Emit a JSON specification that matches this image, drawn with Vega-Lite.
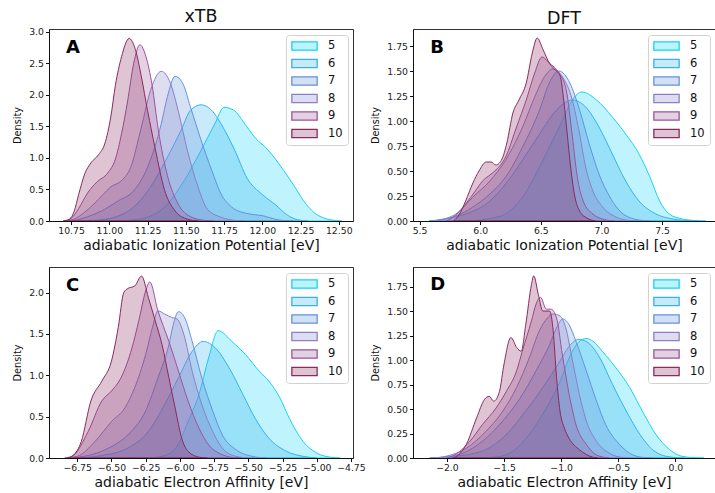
{
  "$schema": "https://vega.github.io/schema/vega-lite/v6.json",
  "padding": {"left": 12, "top": 7, "right": 1, "bottom": 0},
  "config": {
    "font": "DejaVu Sans",
    "view": {"stroke": "#333", "strokeWidth": 1},
    "axis": {"grid": false, "domainColor": "#111", "domainWidth": 1, "tickColor": "#111", "tickWidth": 1, "tickSize": 3.5,
             "labelColor": "#222", "labelFontSize": 9.3, "labelPadding": 2, "labelFlush": false, "labelOverlap": false,
             "titleColor": "#111", "titleFontWeight": "normal"},
    "axisX": {"titleFontSize": 14, "titlePadding": 3},
    "axisY": {"titleFontSize": 9.7, "titlePadding": 6},
    "legend": {"orient": "top-right", "offset": 5.5, "padding": 5, "rowPadding": 5.5, "clipHeight": 12, "labelFontSize": 11.5, "labelColor": "#111",
               "labelOffset": 10, "fillColor": "rgba(255,255,255,0.8)", "strokeColor": "#d2d2d2", "cornerRadius": 3,
               "symbolType": "M-1,-0.33H1V0.33H-1Z", "symbolSize": 640, "symbolStrokeWidth": 1.3},
    "title": {"fontSize": 17.5, "fontWeight": "normal", "color": "#111", "offset": 2}
  },
  "data": {"values": [
    {"p":"A","n":5,"x":11.0,"y":0},{"p":"A","n":5,"x":11.12,"y":0.01},{"p":"A","n":5,"x":11.25,"y":0.06},{"p":"A","n":5,"x":11.38,"y":0.27},{"p":"A","n":5,"x":11.49,"y":0.64},{"p":"A","n":5,"x":11.60,"y":1.12},{"p":"A","n":5,"x":11.69,"y":1.54},{"p":"A","n":5,"x":11.75,"y":1.80},{"p":"A","n":5,"x":11.81,"y":1.76},{"p":"A","n":5,"x":11.90,"y":1.49},{"p":"A","n":5,"x":11.96,"y":1.30},{"p":"A","n":5,"x":12.02,"y":1.17},{"p":"A","n":5,"x":12.08,"y":1.0},{"p":"A","n":5,"x":12.14,"y":0.8},{"p":"A","n":5,"x":12.21,"y":0.55},{"p":"A","n":5,"x":12.27,"y":0.32},{"p":"A","n":5,"x":12.34,"y":0.13},{"p":"A","n":5,"x":12.40,"y":0.05},{"p":"A","n":5,"x":12.47,"y":0.01},{"p":"A","n":5,"x":12.52,"y":0},
    {"p":"A","n":6,"x":10.85,"y":0},{"p":"A","n":6,"x":10.95,"y":0.02},{"p":"A","n":6,"x":11.05,"y":0.07},{"p":"A","n":6,"x":11.16,"y":0.22},{"p":"A","n":6,"x":11.27,"y":0.54},{"p":"A","n":6,"x":11.38,"y":1.01},{"p":"A","n":6,"x":11.47,"y":1.44},{"p":"A","n":6,"x":11.53,"y":1.75},{"p":"A","n":6,"x":11.60,"y":1.84},{"p":"A","n":6,"x":11.67,"y":1.75},{"p":"A","n":6,"x":11.73,"y":1.54},{"p":"A","n":6,"x":11.82,"y":1.12},{"p":"A","n":6,"x":11.90,"y":0.68},{"p":"A","n":6,"x":12.0,"y":0.42},{"p":"A","n":6,"x":12.09,"y":0.25},{"p":"A","n":6,"x":12.16,"y":0.1},{"p":"A","n":6,"x":12.23,"y":0.02},{"p":"A","n":6,"x":12.3,"y":0},
    {"p":"A","n":7,"x":10.76,"y":0},{"p":"A","n":7,"x":10.85,"y":0.06},{"p":"A","n":7,"x":10.95,"y":0.16},{"p":"A","n":7,"x":11.06,"y":0.32},{"p":"A","n":7,"x":11.16,"y":0.48},{"p":"A","n":7,"x":11.25,"y":0.85},{"p":"A","n":7,"x":11.34,"y":1.54},{"p":"A","n":7,"x":11.38,"y":1.97},{"p":"A","n":7,"x":11.43,"y":2.29},{"p":"A","n":7,"x":11.48,"y":2.18},{"p":"A","n":7,"x":11.53,"y":1.81},{"p":"A","n":7,"x":11.60,"y":1.28},{"p":"A","n":7,"x":11.67,"y":0.8},{"p":"A","n":7,"x":11.73,"y":0.43},{"p":"A","n":7,"x":11.80,"y":0.22},{"p":"A","n":7,"x":11.88,"y":0.13},{"p":"A","n":7,"x":11.95,"y":0.1},{"p":"A","n":7,"x":12.01,"y":0.08},{"p":"A","n":7,"x":12.08,"y":0.03},{"p":"A","n":7,"x":12.15,"y":0.005},{"p":"A","n":7,"x":12.2,"y":0},
    {"p":"A","n":8,"x":10.72,"y":0},{"p":"A","n":8,"x":10.77,"y":0.03},{"p":"A","n":8,"x":10.84,"y":0.14},{"p":"A","n":8,"x":10.90,"y":0.27},{"p":"A","n":8,"x":10.96,"y":0.42},{"p":"A","n":8,"x":11.01,"y":0.54},{"p":"A","n":8,"x":11.08,"y":0.64},{"p":"A","n":8,"x":11.14,"y":0.85},{"p":"A","n":8,"x":11.21,"y":1.49},{"p":"A","n":8,"x":11.27,"y":2.07},{"p":"A","n":8,"x":11.34,"y":2.37},{"p":"A","n":8,"x":11.40,"y":2.18},{"p":"A","n":8,"x":11.45,"y":1.75},{"p":"A","n":8,"x":11.51,"y":1.12},{"p":"A","n":8,"x":11.58,"y":0.54},{"p":"A","n":8,"x":11.64,"y":0.19},{"p":"A","n":8,"x":11.73,"y":0.06},{"p":"A","n":8,"x":11.82,"y":0.01},{"p":"A","n":8,"x":11.88,"y":0},
    {"p":"A","n":9,"x":10.70,"y":0},{"p":"A","n":9,"x":10.75,"y":0.04},{"p":"A","n":9,"x":10.80,"y":0.2},{"p":"A","n":9,"x":10.86,"y":0.45},{"p":"A","n":9,"x":10.92,"y":0.62},{"p":"A","n":9,"x":10.99,"y":0.76},{"p":"A","n":9,"x":11.04,"y":0.98},{"p":"A","n":9,"x":11.08,"y":1.38},{"p":"A","n":9,"x":11.12,"y":1.9},{"p":"A","n":9,"x":11.16,"y":2.5},{"p":"A","n":9,"x":11.20,"y":2.79},{"p":"A","n":9,"x":11.24,"y":2.6},{"p":"A","n":9,"x":11.28,"y":2.15},{"p":"A","n":9,"x":11.32,"y":1.45},{"p":"A","n":9,"x":11.38,"y":0.72},{"p":"A","n":9,"x":11.45,"y":0.27},{"p":"A","n":9,"x":11.53,"y":0.07},{"p":"A","n":9,"x":11.62,"y":0.01},{"p":"A","n":9,"x":11.68,"y":0},
    {"p":"A","n":10,"x":10.70,"y":0},{"p":"A","n":10,"x":10.74,"y":0.03},{"p":"A","n":10,"x":10.77,"y":0.15},{"p":"A","n":10,"x":10.80,"y":0.42},{"p":"A","n":10,"x":10.84,"y":0.75},{"p":"A","n":10,"x":10.88,"y":0.92},{"p":"A","n":10,"x":10.93,"y":1.05},{"p":"A","n":10,"x":10.97,"y":1.22},{"p":"A","n":10,"x":11.01,"y":1.65},{"p":"A","n":10,"x":11.04,"y":2.15},{"p":"A","n":10,"x":11.08,"y":2.6},{"p":"A","n":10,"x":11.13,"y":2.89},{"p":"A","n":10,"x":11.17,"y":2.72},{"p":"A","n":10,"x":11.21,"y":2.28},{"p":"A","n":10,"x":11.25,"y":1.75},{"p":"A","n":10,"x":11.30,"y":1.15},{"p":"A","n":10,"x":11.36,"y":0.5},{"p":"A","n":10,"x":11.43,"y":0.16},{"p":"A","n":10,"x":11.51,"y":0.03},{"p":"A","n":10,"x":11.58,"y":0},

    {"p":"B","n":5,"x":5.85,"y":0},{"p":"B","n":5,"x":6.0,"y":0.01},{"p":"B","n":5,"x":6.1,"y":0.03},{"p":"B","n":5,"x":6.21,"y":0.07},{"p":"B","n":5,"x":6.35,"y":0.24},{"p":"B","n":5,"x":6.49,"y":0.54},{"p":"B","n":5,"x":6.60,"y":0.81},{"p":"B","n":5,"x":6.68,"y":1.01},{"p":"B","n":5,"x":6.76,"y":1.21},{"p":"B","n":5,"x":6.84,"y":1.29},{"p":"B","n":5,"x":6.96,"y":1.21},{"p":"B","n":5,"x":7.09,"y":1.04},{"p":"B","n":5,"x":7.20,"y":0.87},{"p":"B","n":5,"x":7.31,"y":0.67},{"p":"B","n":5,"x":7.40,"y":0.44},{"p":"B","n":5,"x":7.48,"y":0.2},{"p":"B","n":5,"x":7.56,"y":0.07},{"p":"B","n":5,"x":7.67,"y":0.02},{"p":"B","n":5,"x":7.81,"y":0.002},{"p":"B","n":5,"x":7.86,"y":0},
    {"p":"B","n":6,"x":5.58,"y":0},{"p":"B","n":6,"x":5.70,"y":0.02},{"p":"B","n":6,"x":5.88,"y":0.07},{"p":"B","n":6,"x":6.08,"y":0.2},{"p":"B","n":6,"x":6.21,"y":0.37},{"p":"B","n":6,"x":6.35,"y":0.61},{"p":"B","n":6,"x":6.49,"y":0.87},{"p":"B","n":6,"x":6.63,"y":1.11},{"p":"B","n":6,"x":6.76,"y":1.21},{"p":"B","n":6,"x":6.87,"y":1.14},{"p":"B","n":6,"x":6.98,"y":0.94},{"p":"B","n":6,"x":7.09,"y":0.67},{"p":"B","n":6,"x":7.20,"y":0.4},{"p":"B","n":6,"x":7.31,"y":0.2},{"p":"B","n":6,"x":7.45,"y":0.07},{"p":"B","n":6,"x":7.59,"y":0.02},{"p":"B","n":6,"x":7.73,"y":0.003},{"p":"B","n":6,"x":7.8,"y":0},
    {"p":"B","n":7,"x":5.58,"y":0},{"p":"B","n":7,"x":5.68,"y":0.01},{"p":"B","n":7,"x":5.80,"y":0.05},{"p":"B","n":7,"x":5.94,"y":0.14},{"p":"B","n":7,"x":6.08,"y":0.27},{"p":"B","n":7,"x":6.21,"y":0.44},{"p":"B","n":7,"x":6.35,"y":0.74},{"p":"B","n":7,"x":6.49,"y":1.11},{"p":"B","n":7,"x":6.57,"y":1.38},{"p":"B","n":7,"x":6.65,"y":1.5},{"p":"B","n":7,"x":6.74,"y":1.38},{"p":"B","n":7,"x":6.82,"y":1.11},{"p":"B","n":7,"x":6.90,"y":0.77},{"p":"B","n":7,"x":6.98,"y":0.47},{"p":"B","n":7,"x":7.07,"y":0.24},{"p":"B","n":7,"x":7.18,"y":0.07},{"p":"B","n":7,"x":7.31,"y":0.01},{"p":"B","n":7,"x":7.4,"y":0},
    {"p":"B","n":8,"x":5.62,"y":0},{"p":"B","n":8,"x":5.70,"y":0.02},{"p":"B","n":8,"x":5.80,"y":0.07},{"p":"B","n":8,"x":5.94,"y":0.24},{"p":"B","n":8,"x":6.08,"y":0.4},{"p":"B","n":8,"x":6.21,"y":0.61},{"p":"B","n":8,"x":6.35,"y":0.94},{"p":"B","n":8,"x":6.46,"y":1.27},{"p":"B","n":8,"x":6.54,"y":1.46},{"p":"B","n":8,"x":6.60,"y":1.52},{"p":"B","n":8,"x":6.68,"y":1.44},{"p":"B","n":8,"x":6.76,"y":1.21},{"p":"B","n":8,"x":6.82,"y":0.87},{"p":"B","n":8,"x":6.87,"y":0.54},{"p":"B","n":8,"x":6.93,"y":0.3},{"p":"B","n":8,"x":7.01,"y":0.14},{"p":"B","n":8,"x":7.12,"y":0.04},{"p":"B","n":8,"x":7.23,"y":0.005},{"p":"B","n":8,"x":7.3,"y":0},
    {"p":"B","n":9,"x":5.72,"y":0},{"p":"B","n":9,"x":5.80,"y":0.06},{"p":"B","n":9,"x":5.88,"y":0.17},{"p":"B","n":9,"x":5.96,"y":0.3},{"p":"B","n":9,"x":6.02,"y":0.4},{"p":"B","n":9,"x":6.08,"y":0.46},{"p":"B","n":9,"x":6.13,"y":0.51},{"p":"B","n":9,"x":6.21,"y":0.64},{"p":"B","n":9,"x":6.30,"y":0.94},{"p":"B","n":9,"x":6.38,"y":1.21},{"p":"B","n":9,"x":6.45,"y":1.48},{"p":"B","n":9,"x":6.51,"y":1.64},{"p":"B","n":9,"x":6.57,"y":1.58},{"p":"B","n":9,"x":6.65,"y":1.48},{"p":"B","n":9,"x":6.71,"y":1.31},{"p":"B","n":9,"x":6.76,"y":0.85},{"p":"B","n":9,"x":6.80,"y":0.45},{"p":"B","n":9,"x":6.85,"y":0.2},{"p":"B","n":9,"x":6.93,"y":0.07},{"p":"B","n":9,"x":7.04,"y":0.01},{"p":"B","n":9,"x":7.1,"y":0},
    {"p":"B","n":10,"x":5.78,"y":0},{"p":"B","n":10,"x":5.83,"y":0.07},{"p":"B","n":10,"x":5.88,"y":0.2},{"p":"B","n":10,"x":5.94,"y":0.38},{"p":"B","n":10,"x":5.99,"y":0.5},{"p":"B","n":10,"x":6.05,"y":0.59},{"p":"B","n":10,"x":6.09,"y":0.59},{"p":"B","n":10,"x":6.13,"y":0.56},{"p":"B","n":10,"x":6.18,"y":0.62},{"p":"B","n":10,"x":6.22,"y":0.78},{"p":"B","n":10,"x":6.27,"y":1.08},{"p":"B","n":10,"x":6.32,"y":1.21},{"p":"B","n":10,"x":6.38,"y":1.38},{"p":"B","n":10,"x":6.43,"y":1.68},{"p":"B","n":10,"x":6.47,"y":1.83},{"p":"B","n":10,"x":6.52,"y":1.71},{"p":"B","n":10,"x":6.57,"y":1.58},{"p":"B","n":10,"x":6.62,"y":1.51},{"p":"B","n":10,"x":6.66,"y":1.45},{"p":"B","n":10,"x":6.69,"y":1.2},{"p":"B","n":10,"x":6.72,"y":0.85},{"p":"B","n":10,"x":6.75,"y":0.5},{"p":"B","n":10,"x":6.78,"y":0.25},{"p":"B","n":10,"x":6.82,"y":0.1},{"p":"B","n":10,"x":6.88,"y":0.03},{"p":"B","n":10,"x":6.95,"y":0},

    {"p":"C","n":5,"x":-6.25,"y":0},{"p":"C","n":5,"x":-6.13,"y":0.02},{"p":"C","n":5,"x":-6.03,"y":0.12},{"p":"C","n":5,"x":-5.94,"y":0.44},{"p":"C","n":5,"x":-5.86,"y":0.77},{"p":"C","n":5,"x":-5.79,"y":1.21},{"p":"C","n":5,"x":-5.72,"y":1.54},{"p":"C","n":5,"x":-5.62,"y":1.41},{"p":"C","n":5,"x":-5.52,"y":1.25},{"p":"C","n":5,"x":-5.42,"y":1.05},{"p":"C","n":5,"x":-5.35,"y":0.93},{"p":"C","n":5,"x":-5.27,"y":0.73},{"p":"C","n":5,"x":-5.20,"y":0.48},{"p":"C","n":5,"x":-5.10,"y":0.2},{"p":"C","n":5,"x":-5.0,"y":0.06},{"p":"C","n":5,"x":-4.90,"y":0.01},{"p":"C","n":5,"x":-4.83,"y":0},
    {"p":"C","n":6,"x":-6.75,"y":0},{"p":"C","n":6,"x":-6.57,"y":0.03},{"p":"C","n":6,"x":-6.38,"y":0.12},{"p":"C","n":6,"x":-6.23,"y":0.32},{"p":"C","n":6,"x":-6.11,"y":0.65},{"p":"C","n":6,"x":-6.01,"y":0.97},{"p":"C","n":6,"x":-5.91,"y":1.29},{"p":"C","n":6,"x":-5.83,"y":1.41},{"p":"C","n":6,"x":-5.74,"y":1.33},{"p":"C","n":6,"x":-5.64,"y":1.09},{"p":"C","n":6,"x":-5.54,"y":0.77},{"p":"C","n":6,"x":-5.45,"y":0.48},{"p":"C","n":6,"x":-5.35,"y":0.24},{"p":"C","n":6,"x":-5.22,"y":0.08},{"p":"C","n":6,"x":-5.10,"y":0.02},{"p":"C","n":6,"x":-5.0,"y":0},
    {"p":"C","n":7,"x":-6.80,"y":0},{"p":"C","n":7,"x":-6.70,"y":0.02},{"p":"C","n":7,"x":-6.52,"y":0.12},{"p":"C","n":7,"x":-6.38,"y":0.28},{"p":"C","n":7,"x":-6.25,"y":0.57},{"p":"C","n":7,"x":-6.16,"y":0.97},{"p":"C","n":7,"x":-6.08,"y":1.37},{"p":"C","n":7,"x":-6.05,"y":1.6},{"p":"C","n":7,"x":-6.01,"y":1.77},{"p":"C","n":7,"x":-5.96,"y":1.68},{"p":"C","n":7,"x":-5.91,"y":1.41},{"p":"C","n":7,"x":-5.84,"y":0.97},{"p":"C","n":7,"x":-5.76,"y":0.57},{"p":"C","n":7,"x":-5.69,"y":0.28},{"p":"C","n":7,"x":-5.59,"y":0.1},{"p":"C","n":7,"x":-5.47,"y":0.02},{"p":"C","n":7,"x":-5.37,"y":0},
    {"p":"C","n":8,"x":-6.84,"y":0},{"p":"C","n":8,"x":-6.75,"y":0.02},{"p":"C","n":8,"x":-6.62,"y":0.2},{"p":"C","n":8,"x":-6.50,"y":0.44},{"p":"C","n":8,"x":-6.40,"y":0.61},{"p":"C","n":8,"x":-6.33,"y":0.85},{"p":"C","n":8,"x":-6.25,"y":1.25},{"p":"C","n":8,"x":-6.20,"y":1.58},{"p":"C","n":8,"x":-6.16,"y":1.78},{"p":"C","n":8,"x":-6.11,"y":1.74},{"p":"C","n":8,"x":-6.06,"y":1.70},{"p":"C","n":8,"x":-6.02,"y":1.68},{"p":"C","n":8,"x":-5.97,"y":1.49},{"p":"C","n":8,"x":-5.91,"y":1.05},{"p":"C","n":8,"x":-5.84,"y":0.65},{"p":"C","n":8,"x":-5.76,"y":0.32},{"p":"C","n":8,"x":-5.69,"y":0.12},{"p":"C","n":8,"x":-5.59,"y":0.02},{"p":"C","n":8,"x":-5.5,"y":0},
    {"p":"C","n":9,"x":-6.84,"y":0},{"p":"C","n":9,"x":-6.78,"y":0.03},{"p":"C","n":9,"x":-6.67,"y":0.32},{"p":"C","n":9,"x":-6.57,"y":0.69},{"p":"C","n":9,"x":-6.50,"y":0.81},{"p":"C","n":9,"x":-6.43,"y":0.97},{"p":"C","n":9,"x":-6.35,"y":1.33},{"p":"C","n":9,"x":-6.30,"y":1.66},{"p":"C","n":9,"x":-6.25,"y":2.02},{"p":"C","n":9,"x":-6.22,"y":2.13},{"p":"C","n":9,"x":-6.16,"y":1.78},{"p":"C","n":9,"x":-6.08,"y":1.41},{"p":"C","n":9,"x":-6.01,"y":1.05},{"p":"C","n":9,"x":-5.94,"y":0.69},{"p":"C","n":9,"x":-5.86,"y":0.36},{"p":"C","n":9,"x":-5.79,"y":0.16},{"p":"C","n":9,"x":-5.69,"y":0.04},{"p":"C","n":9,"x":-5.59,"y":0.003},{"p":"C","n":9,"x":-5.55,"y":0},
    {"p":"C","n":10,"x":-6.82,"y":0},{"p":"C","n":10,"x":-6.78,"y":0.03},{"p":"C","n":10,"x":-6.72,"y":0.2},{"p":"C","n":10,"x":-6.65,"y":0.69},{"p":"C","n":10,"x":-6.57,"y":0.93},{"p":"C","n":10,"x":-6.50,"y":1.17},{"p":"C","n":10,"x":-6.45,"y":1.58},{"p":"C","n":10,"x":-6.41,"y":2.0},{"p":"C","n":10,"x":-6.38,"y":2.05},{"p":"C","n":10,"x":-6.33,"y":2.08},{"p":"C","n":10,"x":-6.28,"y":2.2},{"p":"C","n":10,"x":-6.23,"y":1.94},{"p":"C","n":10,"x":-6.18,"y":1.66},{"p":"C","n":10,"x":-6.13,"y":1.37},{"p":"C","n":10,"x":-6.08,"y":0.97},{"p":"C","n":10,"x":-6.03,"y":0.57},{"p":"C","n":10,"x":-5.99,"y":0.26},{"p":"C","n":10,"x":-5.94,"y":0.08},{"p":"C","n":10,"x":-5.86,"y":0.01},{"p":"C","n":10,"x":-5.8,"y":0},

    {"p":"D","n":5,"x":-1.75,"y":0},{"p":"D","n":5,"x":-1.57,"y":0.01},{"p":"D","n":5,"x":-1.42,"y":0.07},{"p":"D","n":5,"x":-1.28,"y":0.24},{"p":"D","n":5,"x":-1.13,"y":0.51},{"p":"D","n":5,"x":-1.01,"y":0.78},{"p":"D","n":5,"x":-0.93,"y":1.02},{"p":"D","n":5,"x":-0.85,"y":1.18},{"p":"D","n":5,"x":-0.78,"y":1.22},{"p":"D","n":5,"x":-0.72,"y":1.19},{"p":"D","n":5,"x":-0.64,"y":1.09},{"p":"D","n":5,"x":-0.52,"y":0.92},{"p":"D","n":5,"x":-0.40,"y":0.72},{"p":"D","n":5,"x":-0.29,"y":0.48},{"p":"D","n":5,"x":-0.17,"y":0.24},{"p":"D","n":5,"x":-0.05,"y":0.085},{"p":"D","n":5,"x":0.06,"y":0.017},{"p":"D","n":5,"x":0.21,"y":0.001},{"p":"D","n":5,"x":0.25,"y":0},
    {"p":"D","n":6,"x":-2.15,"y":0},{"p":"D","n":6,"x":-1.95,"y":0.015},{"p":"D","n":6,"x":-1.69,"y":0.07},{"p":"D","n":6,"x":-1.48,"y":0.24},{"p":"D","n":6,"x":-1.31,"y":0.48},{"p":"D","n":6,"x":-1.16,"y":0.72},{"p":"D","n":6,"x":-1.01,"y":0.99},{"p":"D","n":6,"x":-0.93,"y":1.14},{"p":"D","n":6,"x":-0.85,"y":1.21},{"p":"D","n":6,"x":-0.78,"y":1.19},{"p":"D","n":6,"x":-0.66,"y":1.02},{"p":"D","n":6,"x":-0.55,"y":0.75},{"p":"D","n":6,"x":-0.43,"y":0.48},{"p":"D","n":6,"x":-0.31,"y":0.24},{"p":"D","n":6,"x":-0.20,"y":0.085},{"p":"D","n":6,"x":-0.08,"y":0.017},{"p":"D","n":6,"x":0.03,"y":0.002},{"p":"D","n":6,"x":0.08,"y":0},
    {"p":"D","n":7,"x":-2.15,"y":0},{"p":"D","n":7,"x":-2.03,"y":0.01},{"p":"D","n":7,"x":-1.86,"y":0.05},{"p":"D","n":7,"x":-1.69,"y":0.17},{"p":"D","n":7,"x":-1.51,"y":0.38},{"p":"D","n":7,"x":-1.36,"y":0.61},{"p":"D","n":7,"x":-1.22,"y":0.89},{"p":"D","n":7,"x":-1.10,"y":1.16},{"p":"D","n":7,"x":-1.04,"y":1.33},{"p":"D","n":7,"x":-0.985,"y":1.42},{"p":"D","n":7,"x":-0.93,"y":1.36},{"p":"D","n":7,"x":-0.87,"y":1.19},{"p":"D","n":7,"x":-0.78,"y":0.89},{"p":"D","n":7,"x":-0.69,"y":0.58},{"p":"D","n":7,"x":-0.61,"y":0.34},{"p":"D","n":7,"x":-0.49,"y":0.14},{"p":"D","n":7,"x":-0.37,"y":0.03},{"p":"D","n":7,"x":-0.26,"y":0.003},{"p":"D","n":7,"x":-0.2,"y":0},
    {"p":"D","n":8,"x":-2.1,"y":0},{"p":"D","n":8,"x":-2.0,"y":0.02},{"p":"D","n":8,"x":-1.83,"y":0.1},{"p":"D","n":8,"x":-1.66,"y":0.27},{"p":"D","n":8,"x":-1.51,"y":0.48},{"p":"D","n":8,"x":-1.39,"y":0.72},{"p":"D","n":8,"x":-1.28,"y":1.02},{"p":"D","n":8,"x":-1.19,"y":1.3},{"p":"D","n":8,"x":-1.12,"y":1.43},{"p":"D","n":8,"x":-1.07,"y":1.47},{"p":"D","n":8,"x":-1.01,"y":1.45},{"p":"D","n":8,"x":-0.96,"y":1.33},{"p":"D","n":8,"x":-0.90,"y":0.99},{"p":"D","n":8,"x":-0.84,"y":0.65},{"p":"D","n":8,"x":-0.78,"y":0.38},{"p":"D","n":8,"x":-0.69,"y":0.17},{"p":"D","n":8,"x":-0.58,"y":0.05},{"p":"D","n":8,"x":-0.46,"y":0.005},{"p":"D","n":8,"x":-0.4,"y":0},
    {"p":"D","n":9,"x":-2.0,"y":0},{"p":"D","n":9,"x":-1.95,"y":0.02},{"p":"D","n":9,"x":-1.80,"y":0.17},{"p":"D","n":9,"x":-1.69,"y":0.34},{"p":"D","n":9,"x":-1.57,"y":0.51},{"p":"D","n":9,"x":-1.48,"y":0.68},{"p":"D","n":9,"x":-1.39,"y":0.89},{"p":"D","n":9,"x":-1.34,"y":1.09},{"p":"D","n":9,"x":-1.26,"y":1.4},{"p":"D","n":9,"x":-1.22,"y":1.57},{"p":"D","n":9,"x":-1.18,"y":1.64},{"p":"D","n":9,"x":-1.13,"y":1.52},{"p":"D","n":9,"x":-1.09,"y":1.52},{"p":"D","n":9,"x":-1.04,"y":1.43},{"p":"D","n":9,"x":-0.99,"y":1.06},{"p":"D","n":9,"x":-0.93,"y":0.65},{"p":"D","n":9,"x":-0.87,"y":0.34},{"p":"D","n":9,"x":-0.78,"y":0.14},{"p":"D","n":9,"x":-0.69,"y":0.03},{"p":"D","n":9,"x":-0.58,"y":0},
    {"p":"D","n":10,"x":-1.95,"y":0},{"p":"D","n":10,"x":-1.90,"y":0.03},{"p":"D","n":10,"x":-1.83,"y":0.14},{"p":"D","n":10,"x":-1.74,"y":0.41},{"p":"D","n":10,"x":-1.67,"y":0.6},{"p":"D","n":10,"x":-1.63,"y":0.63},{"p":"D","n":10,"x":-1.59,"y":0.58},{"p":"D","n":10,"x":-1.54,"y":0.68},{"p":"D","n":10,"x":-1.50,"y":0.96},{"p":"D","n":10,"x":-1.44,"y":1.23},{"p":"D","n":10,"x":-1.39,"y":1.13},{"p":"D","n":10,"x":-1.35,"y":1.09},{"p":"D","n":10,"x":-1.31,"y":1.36},{"p":"D","n":10,"x":-1.26,"y":1.77},{"p":"D","n":10,"x":-1.24,"y":1.86},{"p":"D","n":10,"x":-1.20,"y":1.67},{"p":"D","n":10,"x":-1.16,"y":1.5},{"p":"D","n":10,"x":-1.10,"y":1.5},{"p":"D","n":10,"x":-1.07,"y":1.3},{"p":"D","n":10,"x":-1.04,"y":0.82},{"p":"D","n":10,"x":-1.01,"y":0.48},{"p":"D","n":10,"x":-0.97,"y":0.3},{"p":"D","n":10,"x":-0.93,"y":0.2},{"p":"D","n":10,"x":-0.84,"y":0.085},{"p":"D","n":10,"x":-0.72,"y":0.007},{"p":"D","n":10,"x":-0.68,"y":0}
  ]},
  "columns": 2,
  "spacing": {"row": 46, "column": 60},
  "bounds": "flush",
  "resolve": {"scale": {"fill": "independent", "stroke": "independent"}, "legend": {"fill": "independent", "stroke": "independent"}},
  "concat": [
    {
      "width": 304, "height": 192,
      "title": {"text": "xTB"},
      "layer": [
        {
          "transform": [{"filter": "datum.p === 'A'"}],
          "mark": {"type": "area", "interpolate": "monotone", "fillOpacity": 0.27, "strokeWidth": 1, "clip": true},
          "encoding": {
            "x": {"field": "x", "type": "quantitative", "title": "adiabatic Ionization Potential [eV]",
                  "scale": {"domain": [10.606, 12.593], "nice": false, "zero": false},
                  "axis": {"values": [10.75, 11.0, 11.25, 11.5, 11.75, 12.0, 12.25, 12.5], "format": ".2f", "tickCount": 50, "labelOverlap": false}},
            "y": {"field": "y", "type": "quantitative", "stack": null, "title": "Density",
                  "scale": {"domain": [0, 3.04], "nice": false},
                  "axis": {"values": [0, 0.5, 1, 1.5, 2, 2.5, 3], "format": ".1f", "tickCount": 50, "labelOverlap": false}},
            "fill": {"field": "n", "type": "nominal", "scale": {"domain": [5, 6, 7, 8, 9, 10], "range": ["#12d4f8", "#35b2ec", "#6492dc", "#8a80c8", "#9a559a", "#8a2a5e"]},
                     "legend": {"title": null, "encode": {"symbols": {"update": {"fillOpacity": {"value": 0.28}}}}}},
            "stroke": {"field": "n", "type": "nominal", "scale": {"domain": [5, 6, 7, 8, 9, 10], "range": ["#12d4f8", "#35b2ec", "#6492dc", "#8a80c8", "#9a559a", "#8a2a5e"]},
                       "legend": {"title": null}}
          }
        },
        {
          "data": {"values": [{"t": "A"}]},
          "mark": {"type": "text", "fontSize": 18, "fontWeight": "bold", "align": "left", "baseline": "alphabetic", "color": "#000"},
          "encoding": {"x": {"datum": 10.717}, "y": {"datum": 2.655}, "text": {"field": "t"}}
        }
      ]
    },
    {
      "width": 302, "height": 192,
      "title": {"text": "DFT"},
      "layer": [
        {
          "transform": [{"filter": "datum.p === 'B'"}],
          "mark": {"type": "area", "interpolate": "monotone", "fillOpacity": 0.27, "strokeWidth": 1, "clip": true},
          "encoding": {
            "x": {"field": "x", "type": "quantitative", "title": "adiabatic Ionization Potential [eV]",
                  "scale": {"domain": [5.446, 7.937], "nice": false, "zero": false},
                  "axis": {"values": [5.5, 6.0, 6.5, 7.0, 7.5], "format": ".1f", "tickCount": 50, "labelOverlap": false}},
            "y": {"field": "y", "type": "quantitative", "stack": null, "title": "Density",
                  "scale": {"domain": [0, 1.92], "nice": false},
                  "axis": {"values": [0, 0.25, 0.5, 0.75, 1, 1.25, 1.5, 1.75], "format": ".2f", "tickCount": 50, "labelOverlap": false}},
            "fill": {"field": "n", "type": "nominal", "scale": {"domain": [5, 6, 7, 8, 9, 10], "range": ["#12d4f8", "#35b2ec", "#6492dc", "#8a80c8", "#9a559a", "#8a2a5e"]},
                     "legend": {"title": null, "encode": {"symbols": {"update": {"fillOpacity": {"value": 0.28}}}}}},
            "stroke": {"field": "n", "type": "nominal", "scale": {"domain": [5, 6, 7, 8, 9, 10], "range": ["#12d4f8", "#35b2ec", "#6492dc", "#8a80c8", "#9a559a", "#8a2a5e"]},
                       "legend": {"title": null}}
          }
        },
        {
          "data": {"values": [{"t": "B"}]},
          "mark": {"type": "text", "fontSize": 18, "fontWeight": "bold", "align": "left", "baseline": "alphabetic", "color": "#000"},
          "encoding": {"x": {"datum": 5.588}, "y": {"datum": 1.677}, "text": {"field": "t"}}
        }
      ]
    },
    {
      "width": 304, "height": 191,
      "layer": [
        {
          "transform": [{"filter": "datum.p === 'C'"}],
          "mark": {"type": "area", "interpolate": "monotone", "fillOpacity": 0.27, "strokeWidth": 1, "clip": true},
          "encoding": {
            "x": {"field": "x", "type": "quantitative", "title": "adiabatic Electron Affinity [eV]",
                  "scale": {"domain": [-6.956, -4.735], "nice": false, "zero": false},
                  "axis": {"values": [-6.75, -6.5, -6.25, -6.0, -5.75, -5.5, -5.25, -5.0, -4.75], "format": ".2f", "tickCount": 50, "labelOverlap": false}},
            "y": {"field": "y", "type": "quantitative", "stack": null, "title": "Density",
                  "scale": {"domain": [0, 2.31], "nice": false},
                  "axis": {"values": [0, 0.5, 1, 1.5, 2], "format": ".1f", "tickCount": 50, "labelOverlap": false}},
            "fill": {"field": "n", "type": "nominal", "scale": {"domain": [5, 6, 7, 8, 9, 10], "range": ["#12d4f8", "#35b2ec", "#6492dc", "#8a80c8", "#9a559a", "#8a2a5e"]},
                     "legend": {"title": null, "encode": {"symbols": {"update": {"fillOpacity": {"value": 0.28}}}}}},
            "stroke": {"field": "n", "type": "nominal", "scale": {"domain": [5, 6, 7, 8, 9, 10], "range": ["#12d4f8", "#35b2ec", "#6492dc", "#8a80c8", "#9a559a", "#8a2a5e"]},
                       "legend": {"title": null}}
          }
        },
        {
          "data": {"values": [{"t": "C"}]},
          "mark": {"type": "text", "fontSize": 18, "fontWeight": "bold", "align": "left", "baseline": "alphabetic", "color": "#000"},
          "encoding": {"x": {"datum": -6.831}, "y": {"datum": 2.019}, "text": {"field": "t"}}
        }
      ]
    },
    {
      "width": 302, "height": 191,
      "layer": [
        {
          "transform": [{"filter": "datum.p === 'D'"}],
          "mark": {"type": "area", "interpolate": "monotone", "fillOpacity": 0.27, "strokeWidth": 1, "clip": true},
          "encoding": {
            "x": {"field": "x", "type": "quantitative", "title": "adiabatic Electron Affinity [eV]",
                  "scale": {"domain": [-2.297, 0.347], "nice": false, "zero": false},
                  "axis": {"values": [-2.0, -1.5, -1.0, -0.5, 0.0], "format": ".1f", "tickCount": 50, "labelOverlap": false}},
            "y": {"field": "y", "type": "quantitative", "stack": null, "title": "Density",
                  "scale": {"domain": [0, 1.95], "nice": false},
                  "axis": {"values": [0, 0.25, 0.5, 0.75, 1, 1.25, 1.5, 1.75], "format": ".2f", "tickCount": 50, "labelOverlap": false}},
            "fill": {"field": "n", "type": "nominal", "scale": {"domain": [5, 6, 7, 8, 9, 10], "range": ["#12d4f8", "#35b2ec", "#6492dc", "#8a80c8", "#9a559a", "#8a2a5e"]},
                     "legend": {"title": null, "encode": {"symbols": {"update": {"fillOpacity": {"value": 0.28}}}}}},
            "stroke": {"field": "n", "type": "nominal", "scale": {"domain": [5, 6, 7, 8, 9, 10], "range": ["#12d4f8", "#35b2ec", "#6492dc", "#8a80c8", "#9a559a", "#8a2a5e"]},
                       "legend": {"title": null}}
          }
        },
        {
          "data": {"values": [{"t": "D"}]},
          "mark": {"type": "text", "fontSize": 18, "fontWeight": "bold", "align": "left", "baseline": "alphabetic", "color": "#000"},
          "encoding": {"x": {"datum": -2.146}, "y": {"datum": 1.712}, "text": {"field": "t"}}
        }
      ]
    }
  ]
}
